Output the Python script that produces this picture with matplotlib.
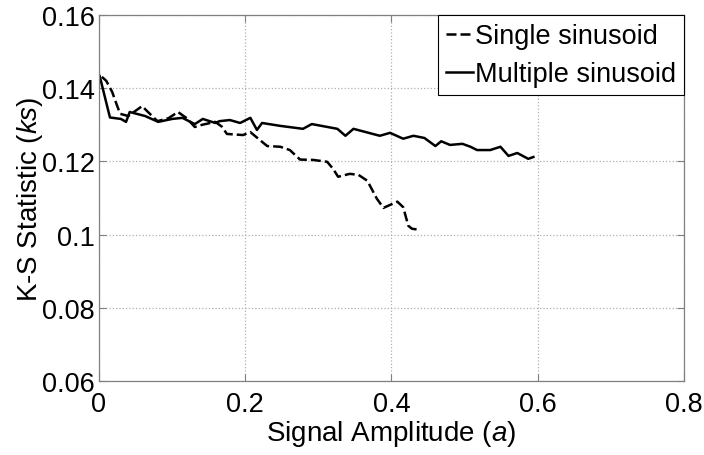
import matplotlib.pyplot as plt

# amplitude / K-S statistic
single_x = [0.004, 0.010, 0.018, 0.025, 0.029, 0.040, 0.059, 0.067, 0.080, 0.095,
            0.108, 0.120, 0.131, 0.141, 0.159, 0.168, 0.175, 0.197, 0.207, 0.230,
            0.248, 0.261, 0.275, 0.293, 0.312, 0.320, 0.327, 0.343, 0.355, 0.367,
            0.380, 0.389, 0.408, 0.416, 0.423, 0.428, 0.439]
single_y = [0.1431, 0.1420, 0.1390, 0.1351, 0.1330, 0.1324, 0.1351, 0.1335, 0.1310, 0.1318,
            0.1335, 0.1318, 0.1294, 0.1300, 0.1308, 0.1295, 0.1275, 0.1272, 0.1280, 0.1242,
            0.1240, 0.1231, 0.1205, 0.1204, 0.1199, 0.1180, 0.1158, 0.1166, 0.1163, 0.1147,
            0.1098, 0.1073, 0.1090, 0.1075, 0.1024, 0.1016, 0.1013]

multi_x = [0.001, 0.015, 0.030, 0.037, 0.042, 0.063, 0.081, 0.100, 0.114, 0.131,
           0.142, 0.159, 0.165, 0.179, 0.193, 0.207, 0.216, 0.223, 0.248, 0.279,
           0.291, 0.326, 0.337, 0.348, 0.384, 0.398, 0.416, 0.430, 0.445, 0.460,
           0.468, 0.480, 0.497, 0.508, 0.517, 0.535, 0.549, 0.560, 0.572, 0.587,
           0.594]
multi_y = [0.1433, 0.1320, 0.1316, 0.1308, 0.1335, 0.1324, 0.1308, 0.1316, 0.1319, 0.1302,
           0.1316, 0.1305, 0.1310, 0.1313, 0.1305, 0.1319, 0.1286, 0.1305, 0.1297, 0.1289,
           0.1302, 0.1289, 0.1270, 0.1289, 0.1270, 0.1278, 0.1262, 0.1270, 0.1264, 0.1242,
           0.1255, 0.1245, 0.1248, 0.1240, 0.1231, 0.1231, 0.1240, 0.1215, 0.1223, 0.1207,
           0.1212]

xticks = [0, 0.2, 0.4, 0.6, 0.8]
yticks = [0.06, 0.08, 0.1, 0.12, 0.14, 0.16]
xlabels = ['0', '0.2', '0.4', '0.6', '0.8']
ylabels = ['0.06', '0.08', '0.1', '0.12', '0.14', '0.16']

plt.rcParams['font.family'] = ['Liberation Sans', 'DejaVu Sans']
plt.rcParams['mathtext.fontset'] = 'custom'
plt.rcParams['mathtext.it'] = 'Liberation Sans:italic'

fig = plt.figure(figsize=(7.04, 4.56), dpi=100)
ax = fig.add_axes([0.1406, 0.1623, 0.8310, 0.8026])

ax.plot(single_x, single_y, color='black', lw=1.8, linestyle=(0, (4, 1.6)),
        label='Single sinusoid')
ax.plot(multi_x, multi_y, color='black', lw=1.8, label='Multiple sinusoid')

ax.set_xlim(0, 0.8)
ax.set_ylim(0.06, 0.16)
ax.set_xticks(xticks)
ax.set_xticklabels(xlabels)
ax.set_yticks(yticks)
ax.set_yticklabels(ylabels)
ax.tick_params(direction='in', length=5, width=0.8, color='#808080',
               labelsize=19.5, top=True, right=True)
ax.tick_params(axis='x', pad=7)
ax.tick_params(axis='y', pad=3)
ax.grid(True, linestyle=':', color='#b0b0b0', lw=0.9)
for s in ax.spines.values():
    s.set_color('#808080')
    s.set_linewidth(0.9)

ax.set_xlabel('Signal Amplitude ($a$)', fontsize=20, labelpad=1)
ax.set_ylabel('K-S Statistic ($ks$)', fontsize=20, labelpad=-2)

leg = ax.legend(loc='upper right', fontsize=19.5, frameon=True, fancybox=False,
                borderaxespad=0, handlelength=1.0, handletextpad=0.05,
                borderpad=0.3, labelspacing=0.45, framealpha=1)
leg.get_frame().set_edgecolor('black')
leg.get_frame().set_linewidth(0.8)

fig.savefig('out.png', dpi=100)
